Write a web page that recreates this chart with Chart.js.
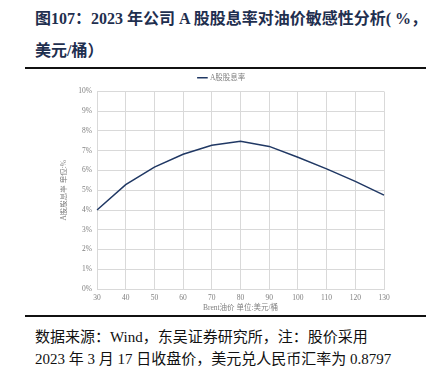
<!DOCTYPE html>
<html>
<head>
<meta charset="utf-8">
<script src="https://cdn.jsdelivr.net/npm/chart.js@4/dist/chart.umd.min.js"></script>
<style>
  html, body { margin: 0; padding: 0; background: #fff; }
  body { width: 436px; height: 366px; position: relative; overflow: hidden; }
  .title {
    position: absolute; left: 35px; top: 3px; width: 400px;
    font-family: "Liberation Serif", "Noto Sans CJK SC", serif;
    font-weight: bold; font-size: 16px; line-height: 32px; color: #1f2f4f;
  }
  .rule { position: absolute; left: 25px; width: 401px; height: 2px; background: #111; }
  .chart-box { position: absolute; left: 60px; top: 70px; width: 360px; height: 245px; }
  .note {
    position: absolute; left: 35px; top: 326px; width: 400px;
    font-family: "Liberation Serif", "Noto Sans CJK SC", serif;
    font-size: 15px; line-height: 22px; color: #111;
  }
</style>
</head>
<body>
<div class="title">图107：2023 年公司 A 股股息率对油价敏感性分析( %，<br>美元/桶）</div>
<div class="rule" style="top:67px"></div>
<div class="chart-box"><canvas id="chart" width="360" height="245"></canvas></div>
<div class="rule" style="top:315px"></div>
<div class="note">数据来源：Wind，东吴证券研究所，注：股价采用<br>2023 年 3 月 17 日收盘价，美元兑人民币汇率为 0.8797</div>
<script>
// Brent 油价（美元/桶）
const oilPrices = [30, 40, 50, 60, 70, 80, 90, 100, 110, 120, 130];
// A股股息率（%）
const dividendYield = [4.0, 5.28, 6.17, 6.82, 7.28, 7.48, 7.22, 6.67, 6.08, 5.45, 4.75];
const yTicks = [0, 1, 2, 3, 4, 5, 6, 7, 8, 9, 10];

const tickFont = { family: '"Liberation Serif", "Noto Sans CJK SC", serif', size: 7.5 };
const gridColor = '#d9d9d9';

new Chart(document.getElementById('chart'), {
    type: 'line',
    data: {
        labels: oilPrices,
        datasets: [{
            label: 'A股股息率',
            data: dividendYield,
            borderColor: '#203864',
            borderWidth: 1.5,
            pointRadius: 0,
            tension: 0,
            fill: false
        }]
    },
    options: {
        responsive: false,
        animation: false,
        layout: { padding: { left: 0, right: 36, top: 1, bottom: 0 } },
        plugins: {
            legend: {
                position: 'top',
                labels: {
                    usePointStyle: true,
                    pointStyle: 'line',
                    boxWidth: 15,
                    color: '#808080',
                    font: tickFont,
                    padding: 3
                }
            },
            tooltip: { enabled: false }
        },
        scales: {
            x: {
                offset: false,
                grid: { color: gridColor, lineWidth: 1, drawTicks: false },
                border: { color: gridColor },
                ticks: { color: '#808080', font: tickFont, padding: 5, maxRotation: 0 },
                title: { display: true, text: 'Brent油价 单位:美元/桶', color: '#808080', font: tickFont, padding: 2 },
                afterFit: s => { s.height = 26; }
            },
            y: {
                min: 0,
                max: 10,
                afterBuildTicks: s => { s.ticks = yTicks.map(v => ({ value: v })); },
                grid: { color: gridColor, lineWidth: 1, drawTicks: false },
                border: { color: gridColor },
                ticks: { color: '#808080', font: tickFont, padding: 5, callback: v => v + '%' },
                title: { display: true, text: 'A股股息率 单位:%', color: '#808080', font: tickFont, padding: 0 },
                afterFit: s => { s.width = 37; }
            }
        }
    }
});
</script>
</body>
</html>
